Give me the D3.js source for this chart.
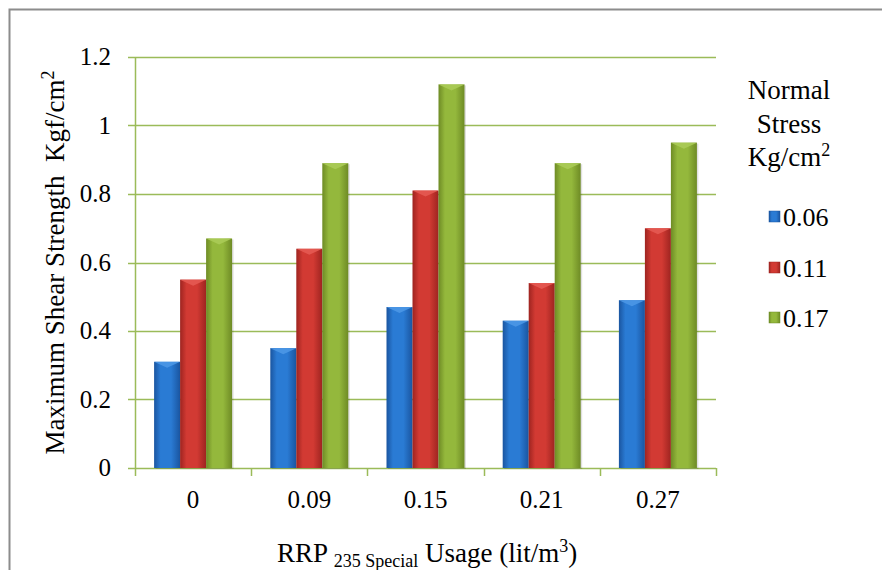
<!doctype html>
<html lang="en">
  <head>
    <meta charset="utf-8" />
    <title>Maximum Shear Strength</title>
    <script src="https://cdn.jsdelivr.net/npm/d3@7"></script>
    <style>
      body { margin: 0; background: #fff; }
      text { font-family: "Liberation Serif", "Times New Roman", serif; fill: #000; }
    </style>
  </head>
  <body>
    <svg id="chart" width="882" height="570"></svg>
    <script>
      const categories = ['0', '0.09', '0.15', '0.21', '0.27'];
      const seriesNames = ['0.06', '0.11', '0.17'];
      const values0_06 = [0.31, 0.35, 0.47, 0.43, 0.49];
      const values0_11 = [0.55, 0.64, 0.81, 0.54, 0.70];
      const values0_17 = [0.67, 0.89, 1.12, 0.89, 0.95];
      const yTicks = [0, 0.2, 0.4, 0.6, 0.8, 1, 1.2];

      const series = [values0_06, values0_11, values0_17];
      const colors = [
        { dark: '#1a55a0', mid: '#2a7bd4', light: '#4b97e6' },
        { dark: '#9e2420', mid: '#d23a33', light: '#e45a52' },
        { dark: '#6e8b25', mid: '#94b83c', light: '#aacb56' }
      ];
      const gridColor = '#9bbb59';

      const svg = d3.select('#chart');
      const defs = svg.append('defs');
      colors.forEach((c, i) => {
        const g = defs.append('linearGradient').attr('id', 'grad' + i)
          .attr('x1', 0).attr('x2', 1).attr('y1', 0).attr('y2', 0);
        g.append('stop').attr('offset', '0%').attr('stop-color', c.dark);
        g.append('stop').attr('offset', '25%').attr('stop-color', c.mid);
        g.append('stop').attr('offset', '65%').attr('stop-color', c.mid);
        g.append('stop').attr('offset', '100%').attr('stop-color', c.dark);
      });

      // outer chart border (only left/top visible in crop)
      svg.append('path').attr('d', 'M9.5,570 V9.5 H882')
        .attr('fill', 'none').attr('stroke', '#8c8c8c').attr('stroke-width', 2);

      const plotL = 135, plotR = 716, plotT = 57, plotB = 468;
      const x = d3.scaleBand().domain(categories).range([plotL, plotR]).padding(0);
      const groupW = 78;
      const y = d3.scaleLinear().domain([0, 1.2]).range([plotB, plotT]);

      // gridlines
      svg.append('g').selectAll('line').data(yTicks).join('line')
        .attr('x1', plotL - 7).attr('x2', plotR)
        .attr('y1', d => Math.round(y(d)) + 0.5).attr('y2', d => Math.round(y(d)) + 0.5)
        .attr('stroke', gridColor).attr('stroke-width', 1.5);

      // y axis line
      svg.append('line').attr('x1', plotL + 0.5).attr('x2', plotL + 0.5)
        .attr('y1', plotT).attr('y2', plotB + 8)
        .attr('stroke', gridColor).attr('stroke-width', 1.5);

      // x category ticks
      const xTickPos = categories.map(c => x(c) + x.bandwidth());
      svg.append('g').selectAll('line').data(xTickPos).join('line')
        .attr('x1', d => Math.round(d) + 0.5).attr('x2', d => Math.round(d) + 0.5)
        .attr('y1', plotB).attr('y2', plotB + 8)
        .attr('stroke', gridColor).attr('stroke-width', 1.5);

      // y tick labels
      svg.append('g').selectAll('text').data(yTicks).join('text')
        .attr('x', plotL - 24).attr('y', d => y(d) + 8)
        .attr('text-anchor', 'end').attr('font-size', 25)
        .text(d => d3.format('~g')(d));

      // x tick labels
      svg.append('g').selectAll('text').data(categories).join('text')
        .attr('x', d => x(d) + x.bandwidth() / 2).attr('y', plotB + 40)
        .attr('text-anchor', 'middle').attr('font-size', 25)
        .text(d => d);

      // bars
      const barW = groupW / series.length;
      const bars = svg.append('g');
      series.forEach((vals, si) => {
        vals.forEach((v, ci) => {
          const bx = x(categories[ci]) + (x.bandwidth() - groupW) / 2 + si * barW;
          const by = y(v);
          const g = bars.append('g');
          g.append('rect').attr('x', bx + 1.5).attr('y', by + 1).attr('width', barW)
            .attr('height', plotB - by).attr('fill', '#000').attr('opacity', 0.12);
          g.append('rect').attr('x', bx).attr('y', by).attr('width', barW)
            .attr('height', plotB - by).attr('fill', `url(#grad${si})`);
          g.append('path')
            .attr('d', `M${bx},${by} L${bx + barW},${by} L${bx + barW * 0.5},${by + 6} Z`)
            .attr('fill', colors[si].light).attr('opacity', 0.9);
        });
      });

      // y axis title
      const yt = svg.append('text')
        .attr('transform', `translate(64,${(plotT + plotB) / 2}) rotate(-90)`)
        .attr('text-anchor', 'middle').attr('font-size', 27);
      yt.append('tspan').text('Maximum Shear Strength\u00a0 Kgf/cm');
      yt.append('tspan').attr('dy', -10).attr('font-size', 18).text('2');

      // x axis title
      const xt = svg.append('text').attr('x', 277).attr('y', 562).attr('font-size', 27);
      xt.append('tspan').text('RRP ');
      xt.append('tspan').attr('dy', 5).attr('font-size', 18).text('235 Special');
      xt.append('tspan').attr('dy', -5).text(' Usage (lit/m');
      xt.append('tspan').attr('dy', -10).attr('font-size', 18).text('3');
      xt.append('tspan').attr('dy', 10).text(')');

      // legend
      const lx = 789;
      const lt = svg.append('text').attr('text-anchor', 'middle').attr('font-size', 27);
      lt.append('tspan').attr('x', lx).attr('y', 99).text('Normal');
      lt.append('tspan').attr('x', lx).attr('y', 133).text('Stress');
      const l3 = svg.append('text').attr('text-anchor', 'middle').attr('font-size', 27)
        .attr('x', lx).attr('y', 166);
      l3.append('tspan').text('Kg/cm');
      l3.append('tspan').attr('dy', -10).attr('font-size', 18).text('2');

      const legendY = [217, 268, 318];
      const items = svg.append('g').selectAll('g').data(seriesNames).join('g')
        .attr('transform', (d, i) => `translate(769,${legendY[i]})`);
      items.append('rect').attr('x', 0).attr('y', -6).attr('width', 11).attr('height', 11)
        .attr('fill', (d, i) => `url(#grad${i})`).attr('stroke', (d, i) => colors[i].dark)
        .attr('stroke-width', 0.5);
      items.append('text').attr('x', 14).attr('y', 9).attr('font-size', 26).text(d => d);
    </script>
  </body>
</html>
